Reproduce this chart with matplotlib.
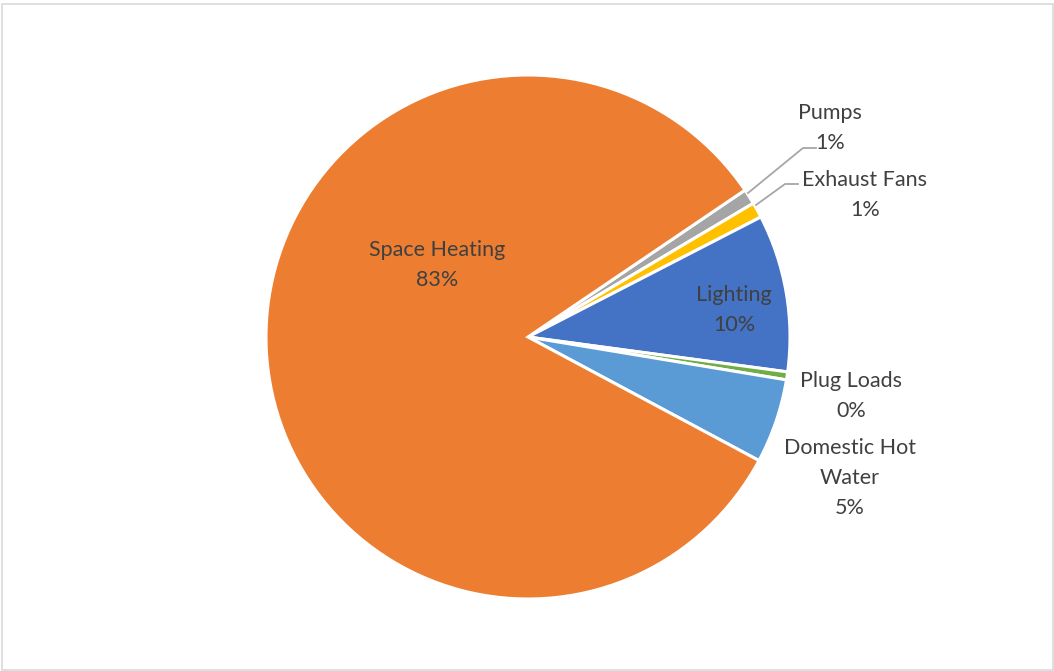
import matplotlib
matplotlib.use("Agg")
import matplotlib.pyplot as plt
from matplotlib.patches import Rectangle

categories = ["Pumps", "Exhaust Fans", "Lighting", "Plug Loads", "Domestic Hot Water", "Space Heating"]
values = [0.95, 0.95, 9.7, 0.49, 5.2, 82.71]
colors = ["#A5A5A5", "#FFC000", "#4472C4", "#70AD47", "#5B9BD5", "#ED7D31"]
label_text = ["Pumps", "Exhaust Fans", "Lighting", "Plug Loads", "Domestic Hot\nWater", "Space Heating"]

W, H = 1054, 671
fig = plt.figure(figsize=(W / 100, H / 100), dpi=100)
ax = fig.add_axes([0, 0, 1, 1])

cx, cy, r = 528, H - 337, 262
wedges, _ = ax.pie(values, colors=colors, startangle=34.1, counterclock=False,
                   center=(cx, cy), radius=r, frame=True,
                   wedgeprops=dict(edgecolor="white", linewidth=2.2))
ax.set_xlim(0, W)
ax.set_ylim(0, H)
ax.axis("off")

# border
ax.add_patch(Rectangle((1.5, 1.5), W - 3, H - 5, fill=False, edgecolor="#D9D9D9", linewidth=1.2))

total = sum(values)
pct = [f"{v / total * 100:.0f}%" for v in values]

font = dict(family="Lato", fontsize=15.5, color="#404040", ha="center", va="center", linespacing=1.6)
# label positions in pixel coords (x, y from top)
pos = {
    "Pumps": (830, 128),
    "Exhaust Fans": (865, 195),
    "Lighting": (734, 310),
    "Plug Loads": (851, 396),
    "Domestic Hot Water": (850, 478),
    "Space Heating": (437, 265),
}
for cat, lab, p in zip(categories, label_text, pct):
    x, y = pos[cat]
    ax.text(x, H - y, f"{lab}\n{p}", **font)

# leader lines
lc = "#A6A6A6"
ax.plot([748, 803, 816], [H - 193, H - 148, H - 148], color=lc, lw=1.3)
ax.plot([756, 785, 798], [H - 205, H - 184, H - 184], color=lc, lw=1.3)

fig.savefig("out.png", dpi=100, facecolor="white")
